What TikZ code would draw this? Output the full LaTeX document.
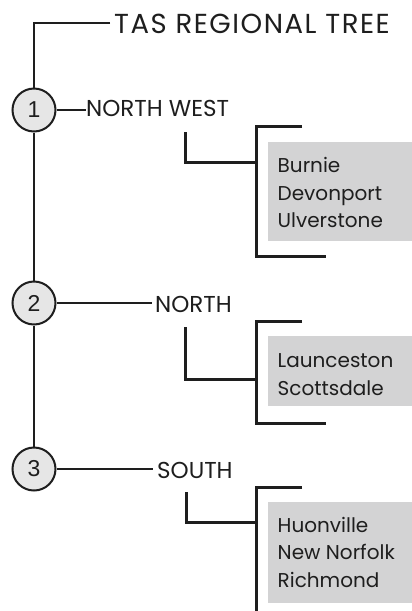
\documentclass[tikz,border=0pt]{standalone}
\usepackage{fontspec}
\setmainfont{Poppins}
\newfontfamily\numfont{Liberation Sans}
\newfontfamily\titlefont[LetterSpace=5.5]{Poppins}
\definecolor{ink}{HTML}{1E1E1E}
\definecolor{circfill}{HTML}{E6E6E6}
\definecolor{boxfill}{HTML}{D3D3D4}
\begin{document}
\begin{tikzpicture}[x=1pt,y=-1pt,
  trunk/.style={line width=2.3pt, draw=ink, line join=miter},
  thinline/.style={line width=1.6pt, draw=ink},
  brk/.style={line width=3pt, draw=ink, line join=miter},
  num/.style={circle, draw=ink, line width=2pt, fill=circfill, minimum size=43pt, inner sep=0pt, font=\numfont\fontsize{23}{23}\selectfont, text=ink},
  region/.style={anchor=base west, inner sep=0pt, font=\fontsize{23}{23}\selectfont, text=ink},
  titlestyle/.style={anchor=base west, inner sep=0pt, font=\titlefont\fontsize{27.5}{27.5}\selectfont, text=ink},
  citybox/.style={fill=boxfill, draw=none, anchor=north west, inner sep=0pt, minimum width=144pt},
  town/.style={anchor=base west, inner sep=0pt, font=\fontsize{20}{20}\selectfont, text=ink},
]
\useasboundingbox (0,0) rectangle (412,611);
\fill[white] (0,0) rectangle (412,611);

% trunk and numbered circles
\coordinate (top) at (34,23);
\node[titlestyle] (title) at (114,33) {TAS REGIONAL TREE};
\node[num] (c1) at (34,110) {1};
\node[num] (c2) at (34,303) {2};
\node[num] (c3) at (34,469) {3};
\draw[trunk] ([xshift=-4pt]title.west |- top) -- (top) -- (c1.north);
\draw[trunk] (c1.south) -- (c2.north);
\draw[trunk] (c2.south) -- (c3.north);

% region labels
\node[region] (nw) at (86,116) {NORTH WEST};
\node[region] (no) at (155,312) {NORTH};
\node[region] (so) at (157,478) {SOUTH};
\draw[thinline] (c1.east) -- (c1.east -| nw.west);
\draw[thinline] (c2.east) -- ([xshift=-3pt]c2.east -| no.west);
\draw[thinline] (c3.east) -- ([xshift=-4pt]c3.east -| so.west);

% grey boxes
\node[citybox, minimum height=99pt] (b1) at (268,142) {};
\node[citybox, minimum height=70pt] (b2) at (268,336) {};
\node[citybox, minimum height=101pt] (b3) at (268,502) {};

\node[town] (t11) at (277.5,172) {Burnie};
\node[town] (t12) at (277.5,200) {Devonport};
\node[town] (t13) at (277.5,227) {Ulverstone};
\node[town] (t21) at (277.5,367) {Launceston};
\node[town] (t22) at (277.5,395) {Scottsdale};
\node[town] (t31) at (277.5,532) {Huonville};
\node[town] (t32) at (277.5,559) {New Norfolk};
\node[town] (t33) at (277.5,587) {Richmond};

% brackets, North West
\coordinate (l1a) at (185,132);
\coordinate (l1b) at (185,162);
\coordinate (k1a) at (302,126);
\coordinate (k1b) at (256,126);
\coordinate (k1c) at (256,256);
\coordinate (k1d) at (326,256);
\draw[brk] (l1a) -- (l1b) -- (l1b -| k1b);
\draw[brk] (k1a) -- (k1b) -- (k1c) -- (k1d);

% brackets, North
\coordinate (l2a) at (185,327);
\coordinate (l2b) at (185,379);
\coordinate (k2a) at (302,321);
\coordinate (k2b) at (256,321);
\coordinate (k2c) at (256,423);
\coordinate (k2d) at (326,423);
\draw[brk] (l2a) -- (l2b) -- (l2b -| k2b);
\draw[brk] (k2a) -- (k2b) -- (k2c) -- (k2d);

% brackets, South
\coordinate (l3a) at (186,492);
\coordinate (l3b) at (186,522);
\coordinate (k3a) at (302,487);
\coordinate (k3b) at (256,487);
\coordinate (k3c) at (256,612);
\draw[brk] (l3a) -- (l3b) -- (l3b -| k3b);
\draw[brk] (k3a) -- (k3b) -- (k3c);
\end{tikzpicture}
\end{document}
